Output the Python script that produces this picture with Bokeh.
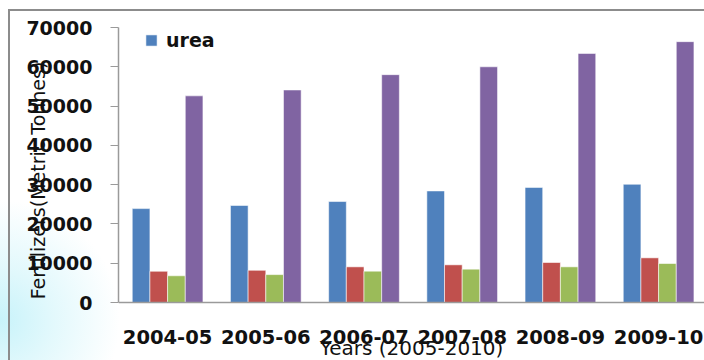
from bokeh.plotting import figure
from bokeh.models import (ColumnDataSource, FixedTicker, Legend, LegendItem,
                          Range1d, NumeralTickFormatter, Span, Label)
from bokeh.core.properties import value
from bokeh.transform import dodge
from bokeh.embed import file_html
from bokeh.resources import INLINE

# Fertilizer consumption by year (metric tonnes)
years = ["2004-05", "2005-06", "2006-07", "2007-08", "2008-09", "2009-10"]
urea = [23900, 24700, 25700, 28400, 29300, 30100]
series_b = [7950, 8200, 9080, 9590, 10180, 11370]
series_c = [6800, 7100, 7970, 8480, 9080, 9920]
series_d = [52600, 54100, 58000, 60000, 63400, 66400]

y_ticks = [0, 10000, 20000, 30000, 40000, 50000, 60000, 70000]

colors = ["#4F81BD", "#C0504D", "#9BBB59", "#8064A2"]

pos = list(range(len(years)))
source = ColumnDataSource(dict(x=pos, year=years, urea=urea, b=series_b,
                               c=series_c, d=series_d))

# Canvas geometry (pixels)
W, H = 704, 360
LEFT = 118
TOP_PX = 27              # pixel row of the 70000 tick
AXIS_PX = 302            # pixel row of the zero line
GROUP_PX = 98.2          # pixels per year group
y_max = 70000
unit_per_px = y_max / (AXIS_PX - TOP_PX)
x_start = -0.5
x_end = x_start + (W - LEFT) / GROUP_PX
y_start = -(H - AXIS_PX) * unit_per_px   # room below zero for the labels
y_end = y_max + TOP_PX * unit_per_px     # room above the top tick

p = figure(width=W, height=H, x_range=Range1d(x_start, x_end),
           y_range=Range1d(y_start, y_end), output_backend="svg",
           toolbar_location=None, x_axis_location=None,
           min_border_left=LEFT, min_border_right=0,
           min_border_top=0, min_border_bottom=0)

p.border_fill_alpha = 0
p.background_fill_alpha = 0
p.outline_line_color = None
p.xgrid.visible = False
p.ygrid.visible = False

# Slide-style frame: grey border lines and a soft cyan glow in the lower left
p.styles = {
    "background": (
        "linear-gradient(#8c8c8c, #8c8c8c) 8px 9px / 2px 351px no-repeat, "
        "linear-gradient(#8c8c8c, #8c8c8c) 8px 9px / 696px 2px no-repeat, "
        "radial-gradient(ellipse 120px 120px at 0px 320px, rgba(200,243,250,1) 0%, "
        "rgba(215,246,251,0.7) 45%, rgba(255,255,255,0) 100%) no-repeat, white"
    )
}

bar_w = 0.18
offsets = [-0.27, -0.09, 0.09, 0.27]
fields = ["urea", "b", "c", "d"]
renderers = []
for f, off, col in zip(fields, offsets, colors):
    r = p.vbar(x=dodge("x", off), top=f, width=bar_w, source=source,
               fill_color=col, line_color="white", line_alpha=0.55, line_width=1)
    renderers.append(r)

axis_color = "#9a9a9a"
text_color = "#111111"

# Category axis: base line plus year labels under each group
p.add_layout(Span(location=0, dimension="width", line_color=axis_color,
                  line_width=1.5))
p.text(x="x", y=0, text="year", source=source, y_offset=27,
       text_align="center", text_baseline="top",
       text_font=value("DejaVu Sans"), text_font_style="bold",
       text_font_size="19.5px", text_color=text_color)
p.add_layout(Label(x=(x_start + x_end) / 2, y=-33 * unit_per_px,
                   text="Years (2005-2010)", text_align="center",
                   text_baseline="top", text_font="DejaVu Sans",
                   text_font_size="20px", text_color=text_color))

# Value axis
p.yaxis.bounds = (0, y_max)
p.yaxis.ticker = FixedTicker(ticks=y_ticks)
p.yaxis.formatter = NumeralTickFormatter(format="0")
p.yaxis.major_tick_out = 8
p.yaxis.major_tick_in = 0
p.yaxis.minor_tick_out = 0
p.yaxis.minor_tick_in = 0
p.yaxis.major_tick_line_color = axis_color
p.yaxis.major_label_standoff = 18
p.yaxis.major_label_text_font = "DejaVu Sans"
p.yaxis.major_label_text_font_style = "bold"
p.yaxis.major_label_text_font_size = "19px"
p.yaxis.major_label_text_color = text_color
p.yaxis.axis_line_color = axis_color
p.yaxis.axis_line_width = 1.5
p.yaxis.axis_label = "Fertilizers(Metric Tonnes)"
p.yaxis.axis_label_standoff = -26
p.yaxis.axis_label_text_font = "DejaVu Sans"
p.yaxis.axis_label_text_font_style = "normal"
p.yaxis.axis_label_text_font_size = "19px"
p.yaxis.axis_label_text_color = text_color

legend = Legend(items=[LegendItem(label="urea", renderers=[renderers[0]])],
                location="top_left", margin=0, padding=0,
                glyph_width=14, glyph_height=14, label_standoff=8,
                label_text_font="DejaVu Sans", label_text_font_style="bold",
                label_text_font_size="19px", label_text_color=text_color,
                border_line_color=None, background_fill_alpha=0)
legend.location = (26, 251 + (H - AXIS_PX))
p.add_layout(legend)

open("out.html", "w").write(file_html(p, INLINE))
